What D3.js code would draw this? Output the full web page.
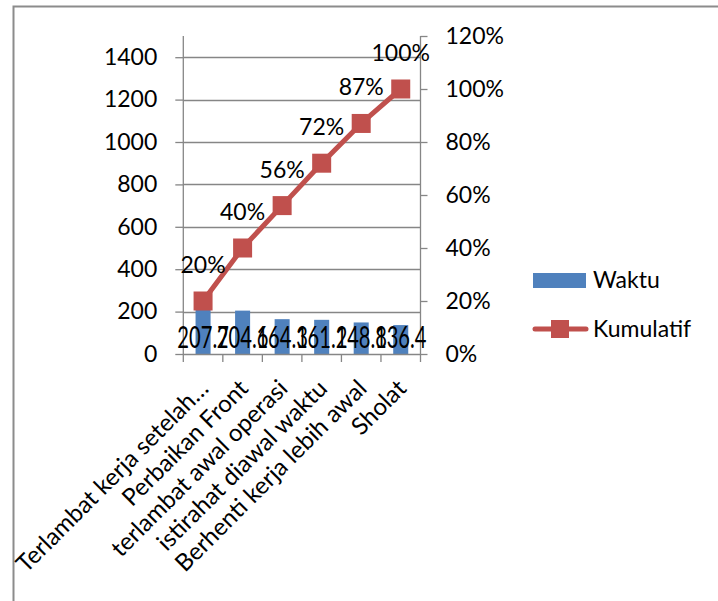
<!DOCTYPE html>
<html><head><meta charset="utf-8">
<script src="https://cdn.jsdelivr.net/npm/d3@7"></script>
<style>
html,body{margin:0;padding:0;background:#fff;}
svg{display:block;}
text{font-family:Lato, "Open Sans", sans-serif;fill:#000;}
</style></head>
<body>
<svg id="chart" width="718" height="601"></svg>
<script>
const categories = ["Terlambat kerja setelah…","Perbaikan Front","terlambat awal operasi","istirahat diawal waktu","Berhenti kerja lebih awal","Sholat"];
const waktu = [207.7, 204.6, 164.3, 161.2, 148.8, 136.4];
const kumulatif = [0.20, 0.40, 0.56, 0.72, 0.87, 1.00];
const waktuLabels = ["207.7","204.6","164.3","161.2","148.8","136.4"];
const kumulatifLabels = ["20%","40%","56%","72%","87%","100%"];
const leftTicks = [0,200,400,600,800,1000,1200,1400];
const rightTicks = [0,0.2,0.4,0.6,0.8,1.0,1.2];
const seriesNames = ["Waktu","Kumulatif"];

const svg = d3.select("#chart");
const axisColor = "#868686";
const barColor = "#4F81BD";
const lineColor = "#C0504D";

// outer border
svg.append("path").attr("d","M13.5,601 L13.5,6.5 L718,6.5")
  .attr("fill","none").attr("stroke","#8c8c8c").attr("stroke-width",2);

const x0 = 183.3, x1 = 420.5, yBottom = 354, yTop = 36;
const x = d3.scaleBand().domain(categories).range([x0,x1]).paddingInner(0.62).paddingOuter(0.31);
const yL = d3.scaleLinear().domain([0,1500]).range([yBottom,yTop]);
const yR = d3.scaleLinear().domain([0,1.2]).range([yBottom,yTop]);

// gridlines
svg.append("g").selectAll("line").data(leftTicks.filter(d=>d>0)).join("line")
  .attr("x1",x0).attr("x2",x1).attr("y1",d=>Math.round(yL(d))+0.5).attr("y2",d=>Math.round(yL(d))+0.5)
  .attr("stroke",axisColor).attr("stroke-width",1.3);

// left axis
const gL = svg.append("g").attr("transform",`translate(${x0},0)`)
  .call(d3.axisLeft(yL).tickValues(leftTicks).tickSize(8).tickPadding(18).tickFormat(d3.format("d")));
gL.select(".domain").attr("d",`M0,${yTop}V${yBottom}`).attr("stroke",axisColor).attr("stroke-width",1.3);
gL.selectAll(".tick line").attr("stroke",axisColor).attr("stroke-width",1.3);
gL.selectAll(".tick text").attr("font-size",23).attr("font-family","Lato").attr("fill","#000");

// right axis
const gR = svg.append("g").attr("transform",`translate(${x1},0)`)
  .call(d3.axisRight(yR).tickValues(rightTicks).tickSize(7).tickPadding(18).tickFormat(d3.format(".0%")));
gR.select(".domain").attr("d",`M0,${yTop}V${yBottom}`).attr("stroke",axisColor).attr("stroke-width",1.3);
gR.selectAll(".tick line").attr("stroke",axisColor).attr("stroke-width",1.3);
gR.selectAll(".tick text").attr("font-size",23).attr("font-family","Lato").attr("fill","#000");

// bars
svg.append("g").selectAll("rect").data(waktu).join("rect")
  .attr("x",(d,i)=>x(categories[i])).attr("width",x.bandwidth())
  .attr("y",d=>yL(d)).attr("height",d=>yBottom-yL(d)).attr("fill",barColor);

// x axis
const gX = svg.append("g").attr("transform",`translate(0,${yBottom})`)
  .call(d3.axisBottom(x).tickSize(0).tickFormat(""));
gX.select(".domain").attr("d",`M${x0},0.5H${x1}`).attr("stroke",axisColor).attr("stroke-width",1.3);
const step = x.step();
svg.append("g").selectAll("line").data(d3.range(categories.length+1)).join("line")
  .attr("x1",i=>x0+i*step).attr("x2",i=>x0+i*step).attr("y1",yBottom).attr("y2",yBottom+8)
  .attr("stroke",axisColor).attr("stroke-width",1.3);

// category labels
svg.append("g").selectAll("text").data(categories).join("text")
  .attr("transform",d=>`translate(${x(d)+x.bandwidth()/2+7},390) rotate(-45)`)
  .attr("text-anchor","end").attr("font-size",24).text(d=>d);

// bar value labels
svg.append("g").selectAll("text").data(waktu).join("text")
  .attr("transform",(d,i)=>`translate(${x(categories[i])+x.bandwidth()/2},348) scale(0.84,1.3)`)
  .attr("text-anchor","middle").attr("font-size",24).text((d,i)=>waktuLabels[i]);

// line
const cx = (d,i)=>x(categories[i])+x.bandwidth()/2;
svg.append("path").datum(kumulatif)
  .attr("d",d3.line().x(cx).y(d=>yR(d)))
  .attr("fill","none").attr("stroke",lineColor).attr("stroke-width",5).attr("stroke-linejoin","round");
svg.append("g").selectAll("rect").data(kumulatif).join("rect")
  .attr("x",(d,i)=>cx(d,i)-9.5).attr("y",d=>yR(d)-9.5).attr("width",19).attr("height",19)
  .attr("fill",lineColor);

// pct labels
svg.append("g").selectAll("text").data(kumulatif).join("text")
  .attr("x",(d,i)=>cx(d,i)).attr("y",d=>yR(d)-28)
  .attr("text-anchor","middle").attr("font-size",23).text((d,i)=>kumulatifLabels[i]);

// legend
const lg = svg.append("g");
lg.append("rect").attr("x",533).attr("y",273).attr("width",53).attr("height",15).attr("fill",barColor);
lg.append("text").attr("x",593).attr("y",288).attr("font-size",23).text(seriesNames[0]);
lg.append("line").attr("x1",535).attr("x2",586).attr("y1",329).attr("y2",329)
  .attr("stroke",lineColor).attr("stroke-width",5).attr("stroke-linecap","round");
lg.append("rect").attr("x",551).attr("y",320).attr("width",18).attr("height",18).attr("fill",lineColor);
lg.append("text").attr("x",593).attr("y",337).attr("font-size",23).text(seriesNames[1]);
</script>
</body></html>
